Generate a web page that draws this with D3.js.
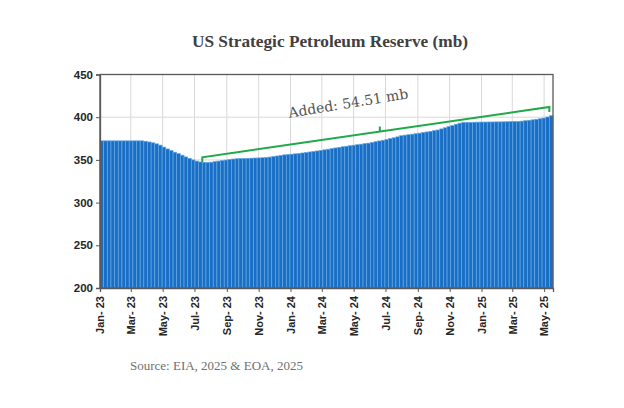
<!DOCTYPE html>
<html>
<head>
<meta charset="utf-8">
<script src="https://cdn.jsdelivr.net/npm/d3@7"></script>
<style>
  body { margin: 0; background: #fff; }
  svg { display: block; }
</style>
</head>
<body>
<script>

// weekly SPR stocks in million barrels
var startDate = new Date(2023, 0, 1);
var reserve = [
  372.3, 372.3, 372.3, 372.3, 372.3, 372.3, 372.3, 372.3, 372.3, 372.3,
  372.3, 372.3, 371.8, 371.0, 370.0, 368.8, 367.3, 365.0, 362.8, 361.0,
  359.0, 357.3, 355.5, 353.5, 351.8, 350.0, 348.6, 347.6, 347.2, 347.0,
  347.3, 348.0, 348.6, 349.2, 349.8, 350.5, 351.0, 351.3, 351.6, 351.7,
  351.8, 352.0, 352.2, 352.3, 352.5, 352.8, 353.3, 354.0, 354.6, 355.3,
  355.9, 356.3, 356.7, 357.1, 357.5, 358.1, 358.7, 359.3, 359.9, 360.5,
  361.1, 361.8, 362.5, 363.2, 364.0, 364.7, 365.4, 366.0, 366.6, 367.2,
  367.8, 368.4, 369.0, 369.6, 370.4, 371.3, 372.2, 373.0, 373.9, 374.9,
  375.9, 377.0, 378.3, 379.0, 379.5, 380.1, 380.7, 381.3, 382.0, 382.7,
  383.4, 384.2, 385.0, 386.3, 387.6, 389.0, 390.3, 391.8, 393.0, 393.8,
  393.9, 394.0, 394.1, 394.2, 394.3, 394.3, 394.4, 394.4, 394.5, 394.5,
  394.6, 394.7, 394.8, 394.9, 395.0, 395.4, 395.9, 396.4, 396.9, 397.5,
  398.2, 399.0, 400.2, 401.7
];
var weeks = reserve.map(function(d, i) { return d3.timeDay.offset(startDate, 7 * i); });

var yTicks = [200, 250, 300, 350, 400, 450];
var title = "US Strategic Petroleum Reserve (mb)";
var note = "Added: 54.51 mb";
var source = "Source: EIA, 2025 & EOA, 2025";

// bracket runs from the low point to the latest week
var bracketFrom = 28, bracketTo = reserve.length - 1;
var bracketLevels = [353, 412];

var width = 624, height = 408;
var plot = {left: 100, right: 553, top: 74.5, bottom: 288};

var svg = d3.select("body").append("svg")
    .attr("width", width)
    .attr("height", height);

var endDate = d3.timeDay.offset(startDate, 7 * reserve.length);
var x = d3.scaleTime().domain([startDate, endDate]).range([plot.left, plot.right]);
var y = d3.scaleLinear().domain([200, 450]).range([plot.bottom, plot.top]);

var tickDates = d3.timeMonth.every(2).range(startDate, endDate);
var fmt = d3.timeFormat("%b- %y");

// grid
svg.append("g").selectAll("line").filter(".hgrid")
  .data(yTicks)
  .enter().append("line")
    .attr("class", "hgrid")
    .attr("x1", plot.left).attr("x2", plot.right)
    .attr("y1", function(d) { return y(d); })
    .attr("y2", function(d) { return y(d); })
    .attr("stroke", "#d9d9d9").attr("stroke-width", 1);

svg.append("g").selectAll("line").filter(".vgrid")
  .data(tickDates)
  .enter().append("line")
    .attr("class", "vgrid")
    .attr("x1", function(d) { return x(d); })
    .attr("x2", function(d) { return x(d); })
    .attr("y1", plot.top).attr("y2", plot.bottom)
    .attr("stroke", "#d9d9d9").attr("stroke-width", 1);

// bars
svg.append("g").selectAll("rect")
  .data(reserve)
  .enter().append("rect")
    .attr("x", function(d, i) { return x(weeks[i]); })
    .attr("width", function(d, i) { return x(d3.timeDay.offset(weeks[i], 7)) - x(weeks[i]); })
    .attr("y", function(d) { return y(d); })
    .attr("height", function(d) { return y(200) - y(d); })
    .attr("fill", "#1a6ec4")
    .attr("stroke", "#62a7e6")
    .attr("stroke-width", 0.7);

// frame
svg.append("rect")
  .attr("x", plot.left).attr("y", plot.top)
  .attr("width", plot.right - plot.left).attr("height", plot.bottom - plot.top)
  .attr("fill", "none").attr("stroke", "#595959").attr("stroke-width", 1.3);

// Y axis
var yAxis = svg.append("g")
  .attr("transform", "translate(" + plot.left + ",0)")
  .call(d3.axisLeft(y).tickValues(yTicks).tickSize(4).tickPadding(3));
yAxis.select(".domain").attr("stroke", "#595959").attr("stroke-width", 1.3);
yAxis.selectAll(".tick line").attr("stroke", "#595959");
yAxis.selectAll("text")
  .style("font-family", "'Liberation Sans', Arial, sans-serif")
  .style("font-size", "11.5px").style("font-weight", "bold").attr("fill", "#262626");

// X axis
var xAxis = svg.append("g")
  .attr("transform", "translate(0," + plot.bottom + ")")
  .call(d3.axisBottom(x).tickValues(tickDates).tickFormat(fmt).tickSize(4));
xAxis.select(".domain").attr("stroke", "#595959").attr("stroke-width", 1.3);
xAxis.selectAll(".tick line").attr("stroke", "#595959");
xAxis.selectAll("text")
  .attr("y", 0).attr("x", -8).attr("dy", "0.35em")
  .attr("transform", "rotate(-90)")
  .style("text-anchor", "end")
  .style("font-family", "'Liberation Sans', Arial, sans-serif")
  .style("font-size", "11px").style("font-weight", "bold").attr("fill", "#262626");

// green bracket
var bx1 = x(weeks[bracketFrom]), bx2 = x(weeks[bracketTo]);
var by1 = y(bracketLevels[0]), by2 = y(bracketLevels[1]);
var mx = (bx1 + bx2) / 2 + 4, my = by1 + (by2 - by1) * (mx - bx1) / (bx2 - bx1);
svg.append("path")
  .attr("d", "M" + bx1 + "," + (by1 + 5) + "L" + bx1 + "," + by1 + "L" + bx2 + "," + by2 + "L" + bx2 + "," + (by2 + 5) +
             "M" + mx + "," + my + "L" + mx + "," + (my - 5))
  .attr("fill", "none").attr("stroke", "#21a84a").attr("stroke-width", 2);

var angle = Math.atan2(by2 - by1, bx2 - bx1) * 180 / Math.PI - 1;
svg.append("text")
  .attr("transform", "translate(" + 349 + "," + 108 + ") rotate(" + angle + ")")
  .attr("text-anchor", "middle")
  .style("font-family", "'DejaVu Serif', serif")
  .style("font-size", "14px")
  .attr("fill", "#555")
  .text(note);

// title and source
svg.append("text")
  .attr("x", 330).attr("y", 47)
  .attr("text-anchor", "middle")
  .style("font-family", "'Liberation Serif', serif")
  .style("font-size", "17.3px").style("font-weight", "bold")
  .attr("fill", "#404040")
  .text(title);

svg.append("text")
  .attr("x", 130).attr("y", 370)
  .style("font-family", "'Liberation Serif', serif")
  .style("font-size", "13px")
  .attr("fill", "#6f6f6f")
  .text(source);

</script>
</body>
</html>
